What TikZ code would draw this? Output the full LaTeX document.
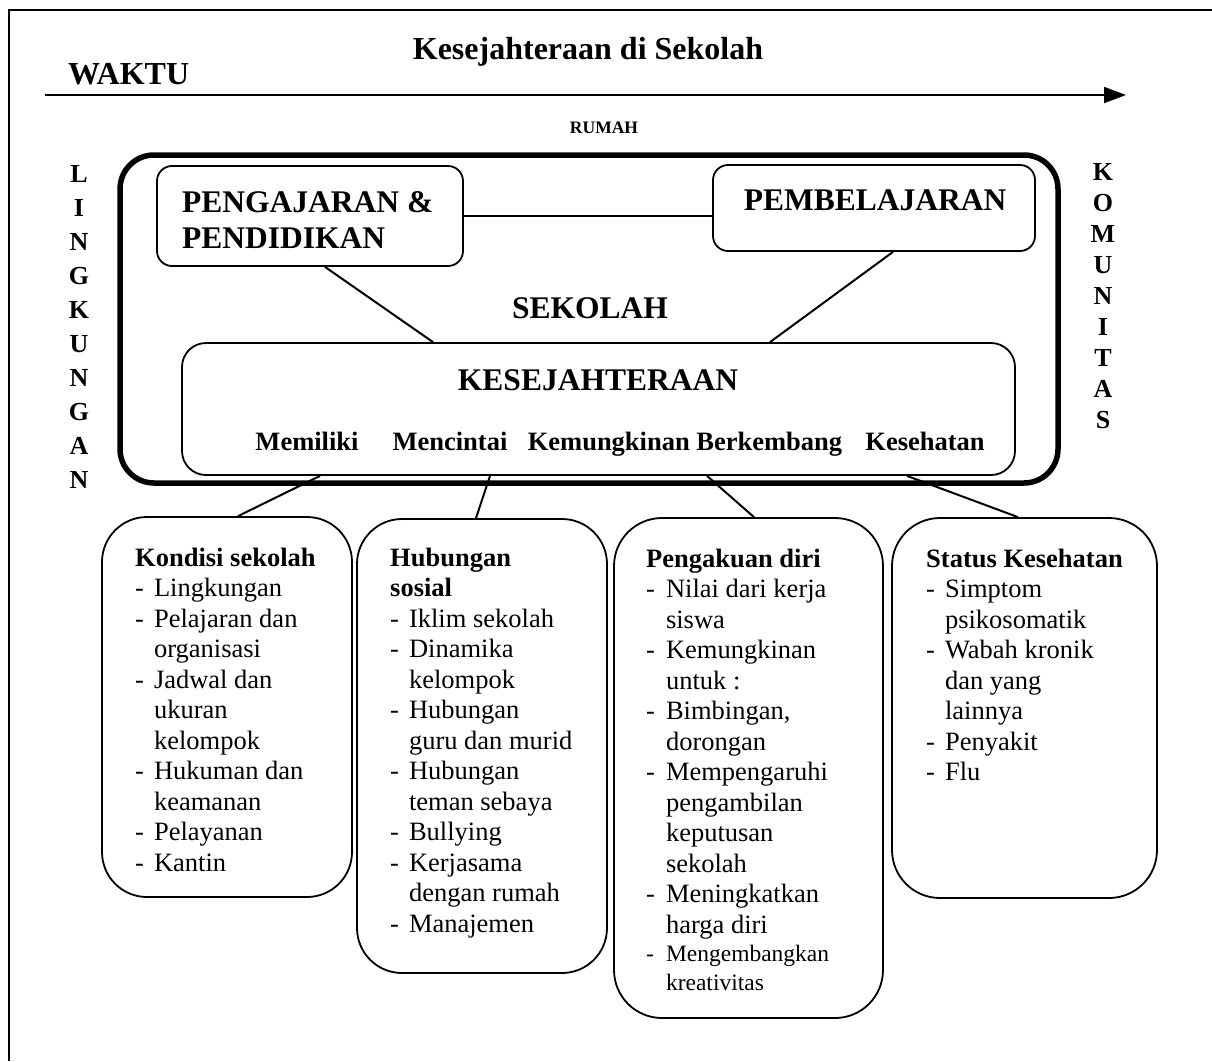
\documentclass[tikz,border=0pt]{standalone}
\usepackage{fontspec}
\setmainfont{Liberation Serif}
\usetikzlibrary{arrows.meta}
\begin{document}
\begin{tikzpicture}[x=1pt,y=-1pt,
  boxw/.style={draw,line width=1.8pt,inner sep=0pt,anchor=center},
  conn/.style={line width=2pt},
  bigtxt/.style={inner sep=0pt,anchor=base,font=\bfseries\fontsize{31.5}{36.5}\selectfont},
  subtxt/.style={inner sep=0pt,anchor=base,font=\bfseries\fontsize{26.5}{30.5}\selectfont},
  listtxt/.style={inner sep=0pt,anchor=base west,font=\fontsize{26.5}{30.5}\selectfont},
  vert/.style={inner sep=0pt,anchor=base,font=\bfseries\fontsize{26}{#1}\selectfont}]
\useasboundingbox (0,0) rectangle (1212,1061);
% frame
\coordinate (fa) at (9,1061);
\coordinate (fb) at (9,10);
\coordinate (fc) at (1212,10);
\draw[line width=2.5pt] (fa) -- (fb) -- (fc);
% title & time
\node[inner sep=0pt,anchor=base,font=\bfseries\fontsize{32}{38}\selectfont] (title) at (588,59) {Kesejahteraan di Sekolah};
\node[inner sep=0pt,anchor=base west,font=\bfseries\fontsize{32}{38}\selectfont] (waktu) at (68,84) {WAKTU};
\coordinate (ta) at (45,95);
\coordinate (tb) at (1126,95);
\draw[line width=2pt,-{Triangle[length=22pt,width=16pt]}] (ta) -- (tb);
\node[inner sep=0pt,anchor=base,font=\bfseries\fontsize{17.5}{20}\selectfont] (rumah) at (604,133) {RUMAH};
% side labels
\node[vert=34.1] (ling) at (79,182) {\begin{tabular}[t]{@{}c@{}}L\\I\\N\\G\\K\\U\\N\\G\\A\\N\end{tabular}};
\node[vert=31] (komu) at (1103,180) {\begin{tabular}[t]{@{}c@{}}K\\O\\M\\U\\N\\I\\T\\A\\S\end{tabular}};
% big school box
\node[draw,line width=5.5pt,rounded corners=34pt,inner sep=0pt,minimum width=938pt,minimum height=328pt] (school) at (589,319) {};
% inner boxes
\node[boxw,rounded corners=15pt,minimum width=306pt,minimum height=100pt] (pend) at (310,216) {};
\node[boxw,rounded corners=15pt,minimum width=322pt,minimum height=86pt] (pemb) at (874,208) {};
\node[boxw,rounded corners=24pt,minimum width=833pt,minimum height=132pt] (kes) at (598.5,409) {};
\node[inner sep=0pt,anchor=base west,font=\bfseries\fontsize{31.5}{36.5}\selectfont] (pendt) at (182,212) {\begin{tabular}[t]{@{}l@{}}PENGAJARAN \&\\PENDIDIKAN\end{tabular}};
\node[bigtxt] (pembt) at (875,210) {PEMBELAJARAN};
\node[bigtxt] (sek) at (590,318) {SEKOLAH};
\node[bigtxt] (kest) at (598,390) {KESEJAHTERAAN};
\node[subtxt] (s1) at (307,450) {Memiliki};
\node[subtxt] (s2) at (450,450) {Mencintai};
\node[subtxt] (s3) at (685,450) {Kemungkinan Berkembang};
\node[subtxt] (s4) at (925,450) {Kesehatan};
\draw[conn] (pend.east) -- (pend.east -| pemb.west);
\draw[conn] ([xshift=15pt]pend.south) -- ([xshift=-165.5pt]kes.north);
\draw[conn] ([xshift=19pt]pemb.south) -- ([xshift=171.5pt]kes.north);
% lower boxes
\node[boxw,rounded corners=45pt,minimum width=250pt,minimum height=380pt] (b1) at (227,707) {};
\node[boxw,rounded corners=45pt,minimum width=250pt,minimum height=454pt] (b2) at (482,746) {};
\node[boxw,rounded corners=48pt,minimum width=269pt,minimum height=500pt] (b3) at (748.5,768) {};
\node[boxw,rounded corners=48pt,minimum width=265pt,minimum height=380pt] (b4) at (1024.5,708) {};
\draw[conn] ([xshift=-278.5pt]kes.south) -- ([xshift=11pt]b1.north);
\draw[conn] ([xshift=-108.5pt]kes.south) -- ([xshift=-6pt]b2.north);
\draw[conn] ([xshift=108.5pt]kes.south) -- ([xshift=5.5pt]b3.north);
\draw[conn] ([xshift=308.5pt]kes.south) -- ([xshift=-6.5pt]b4.north);
% lists
\node[listtxt] (l1) at (135,566) {\begin{tabular}[t]{@{}l@{\hspace{10pt}}l@{}}
\multicolumn{2}{@{}l@{}}{\bfseries Kondisi sekolah}\\
-&Lingkungan\\
-&Pelajaran dan\\
&organisasi\\
-&Jadwal dan\\
&ukuran\\
&kelompok\\
-&Hukuman dan\\
&keamanan\\
-&Pelayanan\\
-&Kantin
\end{tabular}};
\node[listtxt] (l2) at (390,566) {\begin{tabular}[t]{@{}l@{\hspace{10pt}}l@{}}
\multicolumn{2}{@{}l@{}}{\bfseries Hubungan}\\
\multicolumn{2}{@{}l@{}}{\bfseries sosial}\\
-&Iklim sekolah\\
-&Dinamika\\
&kelompok\\
-&Hubungan\\
&guru dan murid\\
-&Hubungan\\
&teman sebaya\\
-&Bullying\\
-&Kerjasama\\
&dengan rumah\\
-&Manajemen
\end{tabular}};
\node[listtxt] (l3) at (646,567) {\begin{tabular}[t]{@{}l@{\hspace{11pt}}l@{}}
\multicolumn{2}{@{}l@{}}{\bfseries Pengakuan diri}\\
-&Nilai dari kerja\\
&siswa\\
-&Kemungkinan\\
&untuk :\\
-&Bimbingan,\\
&dorongan\\
-&Mempengaruhi\\
&pengambilan\\
&keputusan\\
&sekolah\\
-&Meningkatkan\\
&harga diri\\[-2pt]
{\fontsize{23.5}{28}\selectfont -}&{\fontsize{23.5}{28}\selectfont Mengembangkan}\\[-2pt]
&{\fontsize{23.5}{28}\selectfont kreativitas}
\end{tabular}};
\node[listtxt] (l4) at (926,567) {\begin{tabular}[t]{@{}l@{\hspace{10pt}}l@{}}
\multicolumn{2}{@{}l@{}}{\bfseries Status Kesehatan}\\
-&Simptom\\
&psikosomatik\\
-&Wabah kronik\\
&dan yang\\
&lainnya\\
-&Penyakit\\
-&Flu
\end{tabular}};
\end{tikzpicture}
\end{document}
